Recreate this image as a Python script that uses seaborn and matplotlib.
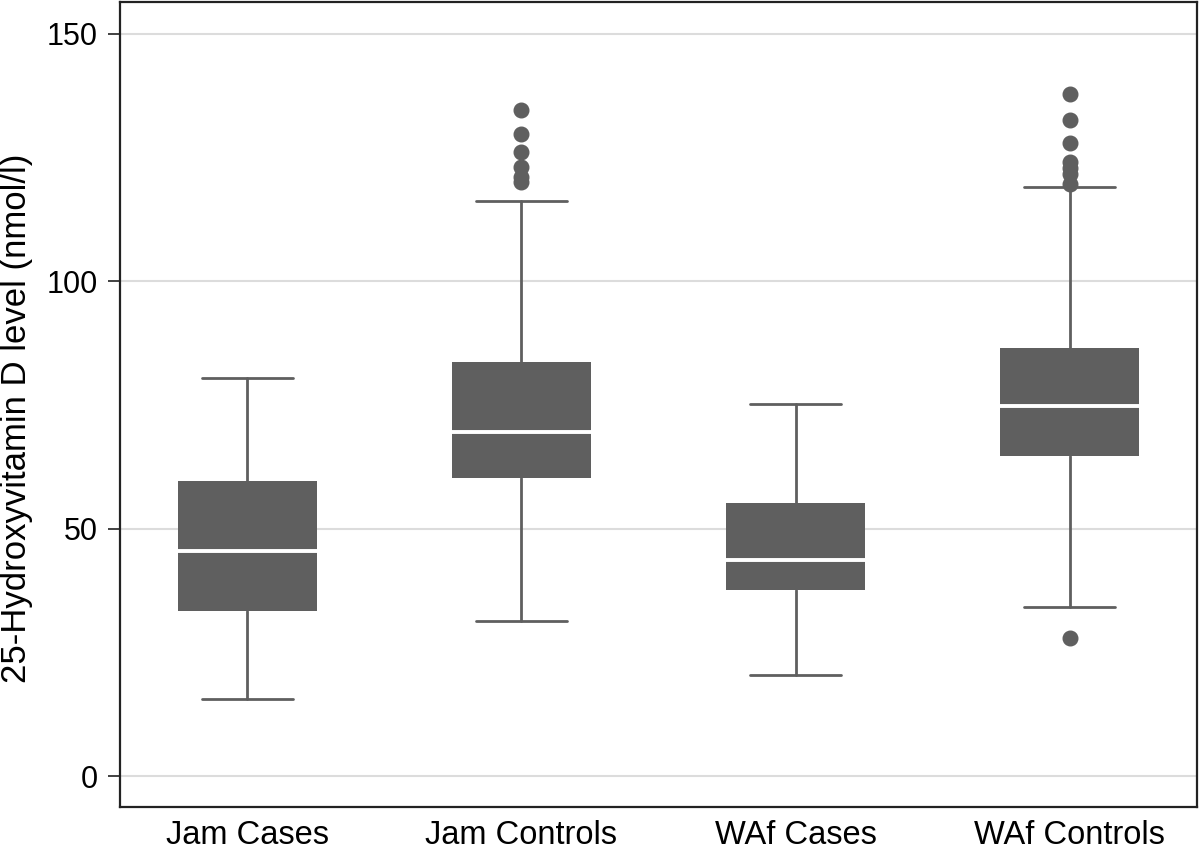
import matplotlib
matplotlib.use("Agg")
import matplotlib.pyplot as plt
import seaborn as sns

# summary values (nmol/l)
groups = ["Jam Cases", "Jam Controls", "WAf Cases", "WAf Controls"]
whisk_low = [15.6, 31.3, 20.4, 34.2]
q1 = [33.4, 60.2, 37.6, 64.7]
medians = [45.5, 69.5, 43.7, 74.8]
q3 = [59.6, 83.7, 55.2, 86.5]
whisk_high = [80.5, 116.2, 75.2, 119.1]
outliers = [
    [],
    [134.6, 129.8, 126.1, 123.1, 121.1, 120.1],
    [],
    [137.9, 132.6, 128.0, 124.1, 122.9, 121.7, 119.6, 27.9],
]

sns.set_style("white")
plt.rcParams["font.family"] = ["Liberation Sans", "DejaVu Sans"]
plt.rcParams["text.color"] = "black"
plt.rcParams["axes.labelcolor"] = "black"
plt.rcParams["xtick.color"] = "black"
plt.rcParams["ytick.color"] = "black"

box_col = "#5f5f5f"

stats = []
for i, g in enumerate(groups):
    stats.append({"label": g, "whislo": whisk_low[i], "q1": q1[i], "med": medians[i],
                  "q3": q3[i], "whishi": whisk_high[i], "fliers": outliers[i]})

fig = plt.figure(figsize=(12, 8.51), dpi=100)
ax = fig.add_axes([0.1, 0.052, 0.8975, 0.946])

ax.bxp(stats, positions=range(len(groups)), widths=0.51, patch_artist=True,
       boxprops=dict(facecolor=box_col, edgecolor=box_col, linewidth=0),
       medianprops=dict(color="white", linewidth=2.8),
       whiskerprops=dict(color=box_col, linewidth=2),
       capprops=dict(color=box_col, linewidth=2),
       capwidths=0.33,
       flierprops=dict(marker="o", markerfacecolor=box_col, markeredgecolor=box_col,
                       markersize=10.5))

ax.set_xlim(-0.465, 3.465)
ax.set_ylim(-6.2, 156.5)
ax.set_yticks([0, 50, 100, 150])
ax.yaxis.grid(True, color="#dcdcdc", linewidth=1.5)
ax.set_axisbelow(True)
ax.set_ylabel("25-Hydroxyvitamin D level (nmol/l)", fontsize=25)
ax.yaxis.set_label_coords(-0.081, 0.483)

ax.tick_params(axis="y", which="both", left=True, length=9, width=1.3,
               color="#333333", labelsize=22, pad=7)
ax.tick_params(axis="x", bottom=False, labelsize=23.5, pad=6)
for s in ax.spines.values():
    s.set_color("#222222")
    s.set_linewidth(1.6)

fig.savefig("out.png", dpi=100)
